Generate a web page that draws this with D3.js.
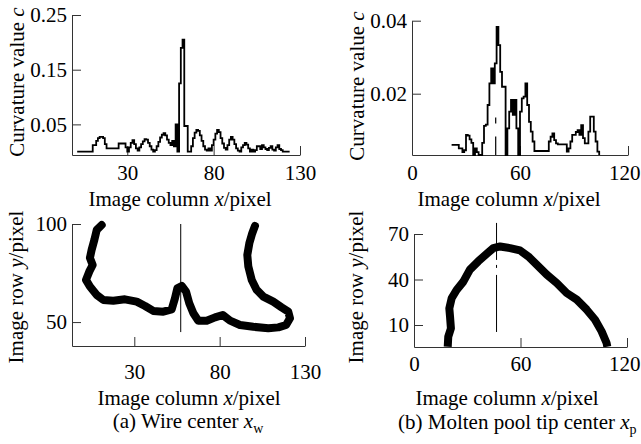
<!DOCTYPE html>
<html>
<head>
<meta charset="utf-8">
<script src="https://cdn.jsdelivr.net/npm/d3@7"></script>
<style>
body { margin: 0; background: #fff; }
svg text { font-family: "Liberation Serif", Tinos, "DejaVu Serif", serif; font-size: 21px; fill: #000; }
.axis path, .axis line { stroke: #333; stroke-width: 1; }
</style>
</head>
<body>
<svg id="fig" width="641" height="444"></svg>
<script>
// (a) curvature per image column, first column = 1
const colA0 = 1;
const curvA = [
    0, 0, 0, 0, 0, 0, 0, 0, 0, 0.012,
    0.012, 0.02, 0.025, 0.027, 0.027, 0.025, 0.014, 0.006, 0.006, 0.006,
    0.006, 0.006, 0.006, 0.006, 0.015, 0.015, 0.015, 0.015, 0.008, 0,
    0.008, 0.016, 0.021, 0.014, 0.006, 0.002, 0.008, 0.014, 0.019, 0.023,
    0.022, 0.016, 0.01, 0.004, 0, 0.003, 0.01, 0.018, 0.026, 0.031,
    0.034, 0.03, 0.022, 0.016, 0.012, 0.02, 0.01, 0.05, 0, 0.125,
    0.19, 0.205, 0.047, 0.047, 0, 0, 0.01, 0.025, 0.035, 0.04,
    0.038, 0.03, 0.02, 0.01, 0.004, 0.002, 0.006, 0.002, 0.012, 0.022,
    0.033, 0.04, 0.036, 0.025, 0.015, 0.007, 0.004, 0.012, 0.022, 0.027,
    0.022, 0.014, 0.006, 0.002, 0, 0.008, 0.012, 0.016, 0.013, 0.006,
    0, 0.004, 0, 0.003, 0.01, 0.01, 0.005, 0.012, 0.008, 0.005,
    0.003, 0.007, 0.01, 0.004, 0.002, 0.008, 0.012, 0.005, 0.003, 0,
    0, 0, 0, 0
];

// (b) curvature per image column, first column = 22
const colB0 = 22;
const curvB = [
    0.006, 0.006, 0.006, 0.006, 0.005, 0.005, 0.004, 0.0045, 0.0087, 0.0085,
    0.0075, 0.0065, 0.0032, 0.005, 0.004, 0.0032, 0.0032, 0.0065, 0.0112, 0.0115,
    0.0169, 0.0228, 0.0269, 0.0228, 0.0283, 0.0383, 0.0333, 0.026, 0.0219, 0.0219,
    0.0032, 0.0105, 0.0151, 0.0183, 0.0142, 0.0183, 0.0105, 0.0032, 0.0151, 0.0187,
    0.0192, 0.0228, 0.0169, 0.0123, 0.0096, 0.0069, 0.0043, 0.0043, 0.0043, 0.0043,
    0.0043, 0.0043, 0.0043, 0.0043, 0.0069, 0.0082, 0.0091, 0.0073, 0.0064, 0.0061,
    0.0061, 0.0061, 0.0061, 0.0061, 0.0041, 0.005, 0.0069, 0.0087, 0.0087, 0.0095,
    0.01, 0.0087, 0.0114, 0.0078, 0.0064, 0.0064, 0.0096, 0.0137, 0.0137, 0.0096,
    0.0069, 0.0041, 0.0032
];

// wire contour (image column, image row)
const wireX = [10.9, 8, 6.6, 5.0, 4.0, 5.6, 3.6, 1.7, 4.0, 8, 11.8, 17.7, 24.5, 31.4, 36.3, 41.1, 47, 51.9,
    53.8, 55.2, 57.8, 60.3, 62.2, 64.6, 67.5, 72.4, 77.3, 81.8, 86.1, 91.9, 99.7, 108.5, 114.4, 118.9,
    121.2, 120.2, 116.3, 111.4, 105.6, 101.7, 98.8, 96.8, 96.2, 97.4, 99.1, 100.7];
const wireY = [99.5, 97, 91.9, 86.8, 82.7, 79.1, 75.7, 71.5, 68.1, 63.8, 61.3, 60.9, 61.6, 60.4, 58.2, 55.7, 55.3, 56.5,
    62.1, 67.2, 68.4, 65.5, 59.6, 54.5, 50.7, 50.7, 52.4, 53.6, 50.7, 48.5, 47.6, 46.8, 47.3, 48.5,
    51.9, 55.3, 57.5, 60.4, 63, 66.4, 71.5, 78.3, 84.2, 90.2, 95.3, 99.0];

// molten pool contour
const poolX = [19, 19.3, 20.8, 20.3, 19.9, 21.2, 24.0, 27.8, 31.5, 36.2, 41, 44.7, 48.5, 54.1, 59.7, 64.4,
    69.1, 74.8, 80.4, 86, 91.7, 97.3, 102, 105.7, 108.5, 108.9];
const poolY = [-4.3, 2.3, 7.8, 15.5, 21, 27.6, 33.1, 38.6, 46.5, 52, 57, 60.7, 61.8, 60.7, 59.2, 55.2,
    49.8, 43.2, 37.7, 31.1, 26.7, 20.1, 13.5, 5.8, -1.9, -4.3];

// centre markers
const wireCenter = 57.2;
const wireMarkY = [44.9, 100];
const poolTip = 46.5;
const poolMarkY = [5.4, 77.3];
const poolMarkC = [0.0032, 0.0135];

// tick values
const ticksAx = [30, 80, 130];
const ticksAc = [0.05, 0.15, 0.25];
const ticksBx = [0, 60, 120];
const ticksBc = [0.02, 0.04];
const ticksAy = [50, 100];
const ticksBy = [10, 40, 70];

const FONT = '"Liberation Serif", Tinos, "DejaVu Serif", serif';

var svg = d3.select('#fig');

function panel(o) {
    var g = svg.append('g').attr('font-family', FONT).attr('font-size', 21);
    var x = d3.scaleLinear().domain(o.xd).range(o.xr);
    var y = d3.scaleLinear().domain(o.yd).range(o.yr);

    var xa = g.append('g').attr('class', 'axis')
        .attr('transform', 'translate(0,' + o.yr[0] + ')')
        .call(d3.axisBottom(x).tickValues(o.xt).tickSizeInner(-9).tickSizeOuter(0).tickPadding(0))
        .call(a => a.attr('font-family', FONT).attr('font-size', 21))
        .call(a => a.selectAll('text').attr('y', o.xlab).attr('dy', 0));

    // keep the last label inside the page
    if (o.lastEnd) {
        xa.selectAll('.tick').filter((d, i, n) => i === n.length - 1).select('text')
            .attr('text-anchor', 'end').attr('x', 640 - x(o.xt[o.xt.length - 1]));
    }

    g.append('g').attr('class', 'axis')
        .attr('transform', 'translate(' + o.xr[0] + ',0)')
        .call(d3.axisLeft(y).tickValues(o.yt).tickSizeInner(-9).tickSizeOuter(0).tickPadding(5)
            .tickFormat(o.yf || (d => d)))
        .call(a => a.attr('font-family', FONT).attr('font-size', 21));

    g.append('clipPath').attr('id', o.id)
        .append('rect')
        .attr('x', o.xr[0]).attr('y', 0)
        .attr('width', o.xr[1] - o.xr[0] + 20).attr('height', o.yr[0]);

    // axis titles
    var t = g.append('text').attr('x', o.tx).attr('y', o.ty).attr('text-anchor', 'middle');
    t.append('tspan').text('Image column ');
    t.append('tspan').attr('font-style', 'italic').text('x');
    t.append('tspan').text('/pixel');

    var yt = g.append('text')
        .attr('transform', 'translate(' + o.yx + ',' + o.yy + ') rotate(-90)')
        .attr('text-anchor', 'middle');
    o.ytitle.forEach(p => yt.append('tspan').attr('font-style', p[1] ? 'italic' : null).text(p[0]));

    return { g: g, x: x, y: y };
}

// top left: curvature (a)
var pa = panel({
    id: 'ca', xd: [-2, 130], xr: [72, 300], yd: [-0.006, 0.25], yr: [155, 15],
    xt: ticksAx, yt: ticksAc, yf: d3.format('.2f'), xlab: 25,
    tx: 180, ty: 206, yx: 24, yy: 82,
    ytitle: [['Curvature value ', false], ['c', true]]
});
pa.g.append('path')
    .datum(curvA.map((c, i) => [colA0 + i, c]))
    .attr('fill', 'none').attr('stroke', '#000').attr('stroke-width', 1.8)
    .attr('d', d3.line().x(d => pa.x(d[0])).y(d => pa.y(d[1])).curve(d3.curveStepAfter));

// top right: curvature (b)
var pb = panel({
    id: 'cb', xd: [0, 120], xr: [412, 628], yd: [0.0032, 0.04], yr: [155, 20.7],
    xt: ticksBx, yt: ticksBc, yf: d3.format('.2f'), xlab: 25, lastEnd: true,
    tx: 509, ty: 206, yx: 364, yy: 86,
    ytitle: [['Curvature value ', false], ['c', true]]
});
pb.g.append('path')
    .datum(curvB.map((c, i) => [colB0 + i, c]))
    .attr('fill', 'none').attr('stroke', '#000').attr('stroke-width', 1.8)
    .attr('d', d3.line().x(d => pb.x(d[0])).y(d => pb.y(d[1])).curve(d3.curveStepAfter));
pb.g.append('line')
    .attr('x1', pb.x(poolTip)).attr('x2', pb.x(poolTip))
    .attr('y1', pb.y(poolMarkC[1])).attr('y2', pb.y(poolMarkC[0]))
    .attr('stroke', '#000').attr('stroke-width', 1.2).attr('stroke-dasharray', '6,13,20');

// bottom left: wire contour
var pc = panel({
    id: 'cc', xd: [-6.5, 130], xr: [72, 305], yd: [37.8, 100], yr: [346, 224],
    xt: ticksAx, yt: ticksAy, xlab: 33,
    tx: 189, ty: 405, yx: 23, yy: 287,
    ytitle: [['Image row ', false], ['y', true], ['/pixel', false]]
});
pc.g.append('line')
    .attr('x1', pc.x(wireCenter)).attr('x2', pc.x(wireCenter))
    .attr('y1', pc.y(wireMarkY[1])).attr('y2', pc.y(wireMarkY[0]))
    .attr('stroke', '#000').attr('stroke-width', 1);
pc.g.append('path')
    .datum(wireX.map((v, i) => [v, wireY[i]]))
    .attr('fill', 'none').attr('stroke', '#000').attr('stroke-width', 8)
    .attr('stroke-linejoin', 'round').attr('stroke-linecap', 'round')
    .attr('d', d3.line().x(d => pc.x(d[0])).y(d => pc.y(d[1])));

// bottom right: molten pool contour
var pd = panel({
    id: 'cd', xd: [0, 120], xr: [414, 627], yd: [-4.5, 70], yr: [347, 234],
    xt: ticksBx, yt: ticksBy, xlab: 24, lastEnd: true,
    tx: 507, ty: 405, yx: 363, yy: 287,
    ytitle: [['Image row ', false], ['y', true], ['/pixel', false]]
});
pd.g.append('path')
    .datum(poolX.map((v, i) => [v, poolY[i]]))
    .attr('clip-path', 'url(#cd)')
    .attr('fill', 'none').attr('stroke', '#000').attr('stroke-width', 8)
    .attr('stroke-linejoin', 'round')
    .attr('d', d3.line().x(d => pd.x(d[0])).y(d => pd.y(d[1])));
pd.g.append('line')
    .attr('x1', pd.x(poolTip)).attr('x2', pd.x(poolTip))
    .attr('y1', pd.y(poolMarkY[1])).attr('y2', pd.y(poolMarkY[0]))
    .attr('stroke', '#000').attr('stroke-width', 1).attr('stroke-dasharray', '37,5,3,7,70');

// captions
var caps = svg.append('g').attr('font-family', FONT).attr('font-size', 21);
var ca = caps.append('text').attr('x', 188).attr('y', 428).attr('text-anchor', 'middle');
ca.append('tspan').text('(a) Wire center  ');
ca.append('tspan').attr('font-style', 'italic').text('x');
ca.append('tspan').attr('font-size', '14px').attr('dy', 5).text('w');

var cb = caps.append('text').attr('x', 398).attr('y', 429);
cb.append('tspan').text('(b) Molten pool tip center ');
cb.append('tspan').attr('font-style', 'italic').text('x');
cb.append('tspan').attr('font-size', '14px').attr('dy', 5).text('p');
</script>
</body>
</html>
